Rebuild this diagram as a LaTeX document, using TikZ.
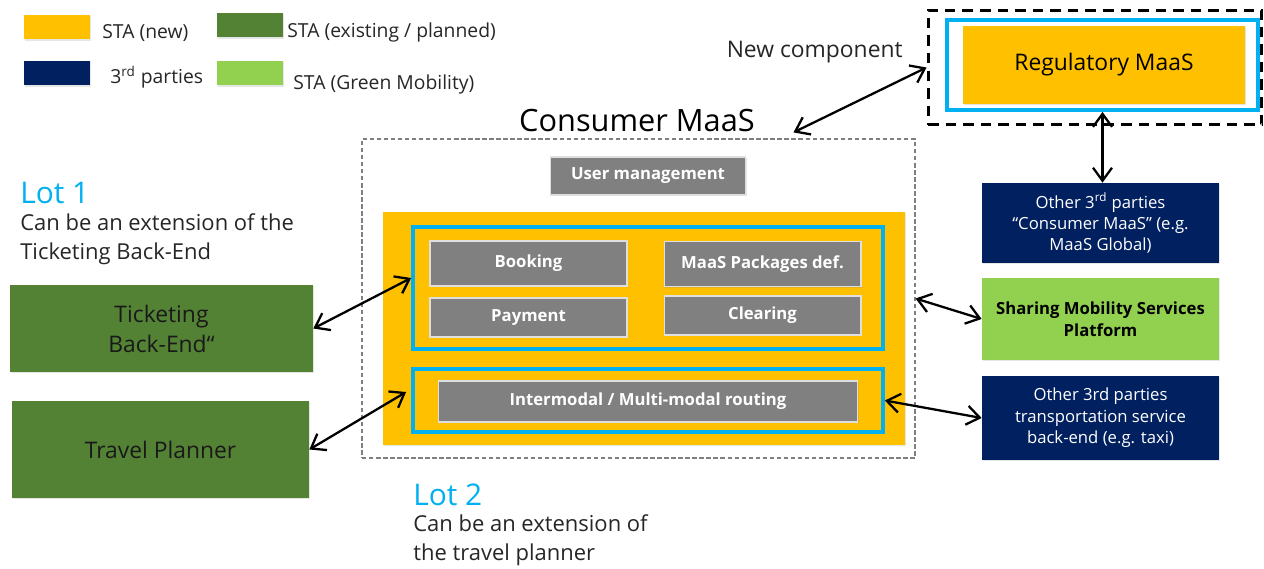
\documentclass[tikz,border=0pt]{standalone}
\usepackage{fontspec}
\setmainfont{Open Sans}
\usepackage{xcolor}
\usetikzlibrary{positioning,arrows.meta,shadows}

\definecolor{staNew}{HTML}{FFC000}
\definecolor{staOld}{HTML}{548235}
\definecolor{staGreen}{HTML}{92D050}
\definecolor{party}{HTML}{002060}
\definecolor{funcGray}{HTML}{808080}
\definecolor{lotCyan}{HTML}{00B0F0}

\begin{document}
\begin{tikzpicture}[x=0.02cm, y=-0.02cm,
    swatch/.style={inner sep=0, minimum width=1.32cm, minimum height=0.5cm,
      drop shadow={opacity=0.2, shadow xshift=0.6pt, shadow yshift=-0.8pt}},
    legendtxt/.style={anchor=base west, inner sep=0, text=black!85, font=\fontsize{11}{13}\selectfont},
    plainbox/.style={inner sep=0, align=center,
      drop shadow={opacity=0.2, shadow xshift=0.8pt, shadow yshift=-0.8pt}},
    existbox/.style={plainbox, fill=staOld, text=black!90, font=\fontsize{13}{17}\selectfont},
    partybox/.style={plainbox, fill=party, text=white, minimum width=4.74cm,
      font=\fontsize{9.5}{12.2}\selectfont},
    funcbox/.style={plainbox, fill=funcGray, draw=white!75!gray, line width=0.6pt, text=white,
      font=\bfseries\fontsize{9.5}{11}\selectfont},
    lotframe/.style={draw=lotCyan, line width=2.2pt, inner sep=0},
    lottitle/.style={anchor=base west, inner sep=0, text=lotCyan, font=\fontsize{17}{20}\selectfont},
    lotnote/.style={anchor=base west, inner sep=0, align=left, text=black!85,
      font=\fontsize{12.5}{16}\selectfont},
    link/.style={<->, line width=1.3pt, >={Straight Barb[length=2.6mm, width=3.8mm]}}
  ]
  \useasboundingbox (0,0) rectangle (1264,568);

  % legend
  \node[swatch, fill=staNew] (keynew) at (57,27) {};
  \node[legendtxt] (keynewtxt) at (102,38) {STA (new)};
  \node[swatch, fill=staOld] (keyold) at (250,25) {};
  \node[legendtxt] (keyoldtxt) at (287,37) {STA (existing / planned)};
  \node[swatch, fill=party] (keyparty) at (57,73) {};
  \node[legendtxt] (keypartytxt) at (110,83) {3\textsuperscript{rd} parties};
  \node[swatch, fill=staGreen] (keygreen) at (250,73) {};
  \node[legendtxt] (keygreentxt) at (293,89) {STA (Green Mobility)};

  % regulatory MaaS (new component)
  \node[anchor=base east, inner sep=0, text=black!85, font=\fontsize{13}{15}\selectfont] (newcomp) at (903,57) {New component};
  \node[draw, line width=1.7pt, dash pattern=on 6pt off 4pt, inner sep=0,
    minimum width=6.68cm, minimum height=2.3cm] (regframe) at (1095,67.5) {};
  \node[lotframe, fill=white, minimum width=6.22cm, minimum height=1.8cm] (regcyan) at (1102.5,65) {};
  \node[plainbox, fill=staNew, minimum width=5.64cm, minimum height=1.56cm,
    font=\fontsize{13}{15}\selectfont] (regmaas) at (1104,65) {Regulatory MaaS};

  % consumer MaaS
  \node[anchor=base, inner sep=0, font=\fontsize{17.5}{20}\selectfont] (cmaastitle) at (637,131) {Consumer MaaS};
  \node[draw=gray, line width=0.7pt, dash pattern=on 2.5pt off 1.5pt, inner sep=0,
    minimum width=11.06cm, minimum height=6.38cm] (cmaas) at (638.5,298.5) {};
  \node[funcbox, minimum width=3.9cm, minimum height=0.76cm] (usermgmt) at (648,176) {User management};
  \node[plainbox, fill=staNew, minimum width=10.44cm, minimum height=4.66cm] (core) at (644,328.5) {};
  \node[lotframe, minimum width=9.4cm, minimum height=2.44cm] (lotoneframe) at (648,288) {};
  \node[funcbox, minimum width=3.94cm, minimum height=0.9cm] (booking) at (528.5,263.5) {Booking};
  \node[funcbox, minimum width=3.94cm, minimum height=0.9cm] (packages) at (762.5,264) {MaaS Packages def.};
  \node[funcbox, minimum width=3.94cm, minimum height=0.78cm] (payment) at (528.5,317.5) {Payment};
  \node[funcbox, minimum width=3.94cm, minimum height=0.78cm] (clearing) at (762.5,315.5) {Clearing};
  \node[lotframe, minimum width=9.4cm, minimum height=1.26cm] (lottwoframe) at (648,400.5) {};
  \node[funcbox, minimum width=8.4cm, minimum height=0.82cm] (routing) at (648,401.5) {Intermodal / Multi-modal routing};

  % lot 1 and existing STA systems
  \node[lottitle] (lotone) at (20,203) {Lot 1};
  \node[lotnote] (lotonenote) at (20,259) {Can be an extension of the\\Ticketing Back-End};
  \node[existbox, minimum width=6.06cm, minimum height=1.74cm] (ticketing) at (161.5,328.5) {Ticketing\\Back-End“};
  \node[existbox, minimum width=5.94cm, minimum height=1.94cm] (planner) at (160.5,449.5) {Travel Planner};

  % lot 2
  \node[lottitle] (lottwo) at (413,505) {Lot 2};
  \node[lotnote] (lottwonote) at (413,560) {Can be an extension of\\the travel planner};

  % third parties and green mobility
  \node[partybox, minimum height=1.6cm] (othermaas) at (1100.5,223) {Other 3\textsuperscript{rd} parties\\“Consumer MaaS” (e.g.\\MaaS Global)};
  \node[plainbox, fill=staGreen, minimum width=4.74cm, minimum height=1.64cm,
    font=\bfseries\fontsize{9.5}{12.5}\selectfont] (sharing) at (1100.5,319) {Sharing Mobility Services\\Platform};
  \node[partybox, minimum height=1.68cm] (taxi) at (1100.5,418) {Other 3rd parties\\transportation service\\back-end (e.g. taxi)};

  % links
  \draw[link] ([xshift=3.1cm, yshift=0.12cm]cmaas.north) -- (regframe.west);
  \draw[link] (regcyan.south) -- (regcyan.south |- othermaas.north);
  \draw[link] (ticketing.east) -- ([yshift=0.2cm]lotoneframe.west);
  \draw[link] (planner.east) -- ([xshift=-0.1cm, yshift=0.17cm]lottwoframe.west);
  \draw[link] (cmaas.east) -- (sharing.west);
  \draw[link] (lottwoframe.east) -- (taxi.west);
\end{tikzpicture}
\end{document}
